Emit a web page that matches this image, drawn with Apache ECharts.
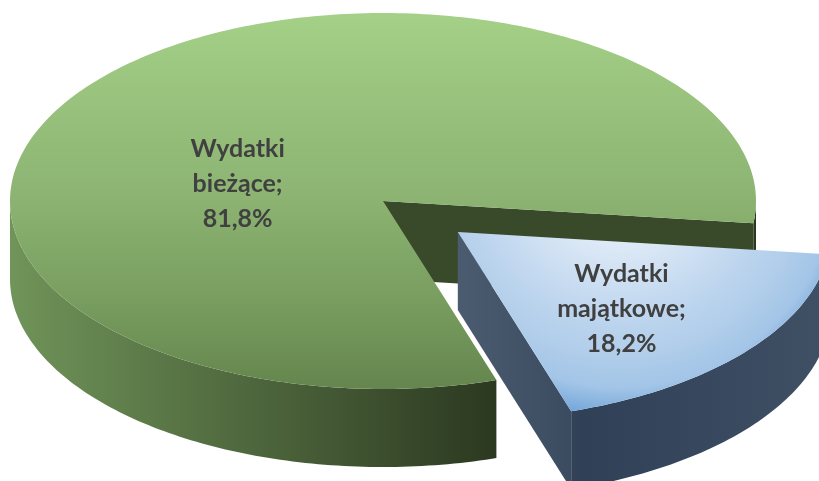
<!DOCTYPE html>
<html>
<head>
<meta charset="utf-8">
<script src="https://cdn.jsdelivr.net/npm/echarts@6/dist/echarts.min.js"></script>
<style>
  html, body { margin: 0; padding: 0; background: #fff; }
  #pie3d { width: 819px; height: 481px; }
</style>
</head>
<body>
<div id="pie3d"></div>
<script>
	// data
	var sliceNames = ['Wydatki bieżące', 'Wydatki majątkowe'];
	var sliceValues = [81.8, 18.2];
	var sliceExplode = [0, 0.26];

	// layout of the tilted pie (pixels / degrees)
	var CX = 383, CY = 201, RX = 373, RY = 188, DEPTH = 78, START = 72.3;
	var labelAnchor = [[193, 0.40], [43, 0.60]];   // [angle, radius share]

	var topFill = [
	    { type: 'linear', x: 0, y: 13, x2: 0, y2: 385, global: true,
	      colorStops: [{offset: 0, color: '#a4d087'}, {offset: 0.5, color: '#8cb372'},
	                   {offset: 0.75, color: '#7a9f61'}, {offset: 1, color: '#65874f'}] },
	    { type: 'radial', x: 620, y: 170, r: 250, global: true,
	      colorStops: [{offset: 0, color: '#f0f5fb'}, {offset: 0.3, color: '#dde9f6'},
	                   {offset: 0.6, color: '#bdd5ee'}, {offset: 0.75, color: '#b0cdea'},
	                   {offset: 0.87, color: '#a3c5e7'}, {offset: 1, color: '#6ea2d8'}] }
	];
	var rimFill = [
	    { type: 'linear', x: 10, y: 0, x2: 500, y2: 0, global: true,
	      colorStops: [{offset: 0, color: '#709459'}, {offset: 1, color: '#2b3820'}] },
	    { type: 'linear', x: 457, y: 0, x2: 819, y2: 0, global: true,
	      colorStops: [{offset: 0, color: '#46566b'}, {offset: 0.35, color: '#2f4057'},
	                   {offset: 1, color: '#3f5065'}] }
	];
	var cutFill = [
	    '#394a2b',
	    { type: 'linear', x: 457, y: 0, x2: 570, y2: 0, global: true,
	      colorStops: [{offset: 0, color: '#4b5b70'}, {offset: 1, color: '#3b4b60'}] }
	];

	var total = sliceValues.reduce(function (s, v) { return s + v; }, 0);
	var sweeps = sliceValues.map(function (v) { return v / total * 360; });
	var starts = [];
	sweeps.reduce(function (acc, s) { starts.push(acc); return acc + s; }, START);

	function cosd(a) { return Math.cos(a * Math.PI / 180); }
	function sind(a) { return Math.sin(a * Math.PI / 180); }

	function labelText(i) {
	    var pct = (sliceValues[i] / total * 100).toFixed(1).replace('.', ',');
	    return sliceNames[i].replace(' ', '\n') + ';\n' + pct + '%';
	}

	// front half of the rim (sin > 0) that falls inside [a1, a2]
	function frontRanges(a1, a2) {
	    var out = [];
	    for (var k = 0; k < 3; k++) {
	        var lo = Math.max(a1, k * 360), hi = Math.min(a2, k * 360 + 180);
	        if (hi > lo) out.push([lo, hi]);
	    }
	    return out;
	}

	function renderSlice(params, api) {
	    var i = params.dataIndex;
	    var a1 = starts[i], a2 = a1 + sweeps[i], mid = (a1 + a2) / 2;
	    var cx = CX + RX * sliceExplode[i] * cosd(mid),
	        cy = CY + RY * sliceExplode[i] * sind(mid);
	    function pt(a, dy) { return [cx + RX * cosd(a), cy + RY * sind(a) + (dy || 0)]; }
	    var children = [], a, pts;

	    frontRanges(a1, a2).forEach(function (r) {
	        pts = [];
	        for (a = r[0]; a < r[1]; a += 1) pts.push(pt(a));
	        pts.push(pt(r[1]));
	        for (a = r[1]; a > r[0]; a -= 1) pts.push(pt(a, DEPTH));
	        pts.push(pt(r[0], DEPTH));
	        children.push({ type: 'polygon', shape: { points: pts }, style: { fill: rimFill[i] } });
	    });

	    [[a1, cosd(a1) < 0], [a2, cosd(a2) > 0]].forEach(function (f) {
	        if (!f[1]) return;
	        children.push({
	            type: 'polygon',
	            shape: { points: [[cx, cy], pt(f[0]), pt(f[0], DEPTH), [cx, cy + DEPTH]] },
	            style: { fill: cutFill[i] }
	        });
	    });

	    pts = [[cx, cy]];
	    for (a = a1; a < a2; a += 1) pts.push(pt(a));
	    pts.push(pt(a2));
	    children.push({ type: 'polygon', shape: { points: pts }, style: { fill: topFill[i] } });

	    var la = labelAnchor[i];
	    children.push({
	        type: 'text',
	        x: cx + RX * la[1] * cosd(la[0]),
	        y: cy + RY * la[1] * sind(la[0]),
	        style: {
	            text: labelText(i),
	            fill: '#404040',
	            fontSize: 25,
	            fontWeight: 'bold',
	            fontFamily: 'Lato',
	            lineHeight: 35,
	            align: 'center',
	            verticalAlign: 'middle'
	        }
	    });
	    return { type: 'group', children: children };
	}

	var pieChart = echarts.init(document.getElementById('pie3d'));
	pieChart.setOption({
	    animation: false,
	    series: [{
	        type: 'custom',
	        coordinateSystem: 'none',
	        silent: true,
	        renderItem: renderSlice,
	        data: sliceValues.map(function (v, i) { return [v, i]; })
	    }]
	});
</script>
</body>
</html>
